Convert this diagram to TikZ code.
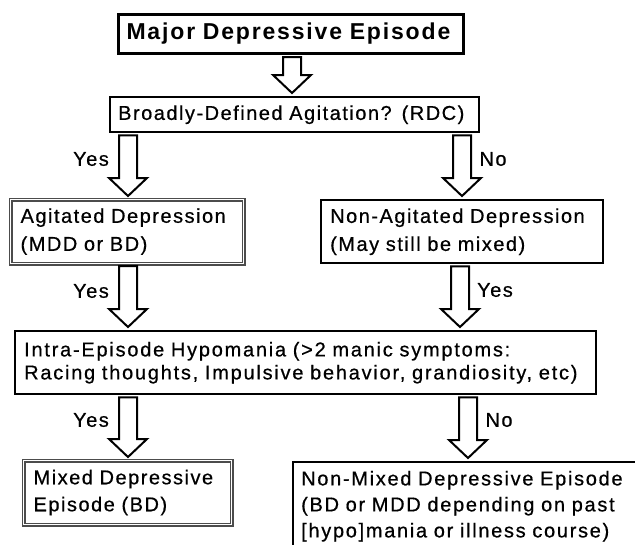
\documentclass[tikz,border=0pt]{standalone}
\usepackage{fontspec}
\setmainfont{Liberation Sans}[LetterSpace=7.5, FakeBold=0.6]
\newfontfamily\titlefont{Liberation Sans}[LetterSpace=8]
\usetikzlibrary{calc}
\tikzset{
  box/.style={draw=black, line width=2.4pt, fill=white, inner ysep=0pt, align=left, anchor=north west},
  dbox/.style={box, draw=black!70, line width=1.2pt, double=white, double distance=1.6pt},
  blockarr/.style={draw=black, line width=2pt, fill=white, line join=miter},
  lbl/.style={inner sep=0pt, font=\fontsize{20}{22}\selectfont},
}
\newcommand{\blockarrow}[3]{%
  \draw[blockarr] let \p1=(#2.south), \p2=(#3.north) in
    ({#1pt-9pt},{\y1-2pt}) -- ({#1pt+9pt},{\y1-2pt}) -- ({#1pt+9pt},{\y2+21pt})
    -- ({#1pt+19pt},{\y2+21pt}) -- ({#1pt},{\y2+3pt}) -- ({#1pt-19pt},{\y2+21pt})
    -- ({#1pt-9pt},{\y2+21pt}) -- cycle;}
\begin{document}
\begin{tikzpicture}[x=1pt,y=-1pt]
\useasboundingbox (0,0) rectangle (635,544);
\clip (0,0) rectangle (635,544);
\fill[white] (0,0) rectangle (635,544);

\node[box, line width=3pt, minimum width=345pt, minimum height=39pt, inner xsep=8pt, text width=329pt,
  font=\titlefont\bfseries\fontsize{23}{26}\selectfont] (mde) at (117,13) {\mbox{Major Depressive Episode}};

\node[box, minimum width=369pt, minimum height=35pt, inner xsep=8pt, text width=353pt,
  font=\fontsize{20}{28}\selectfont] (bda) at (109,96) {\mbox{Broadly-Defined Agitation? (RDC)}};

\node[dbox, minimum width=233pt, minimum height=64pt, inner xsep=10pt, text width=213pt,
  font=\fontsize{20}{28}\selectfont] (agd) at (10,199) {\mbox{Agitated Depression}\\\mbox{(MDD or BD)}};

\node[box, minimum width=282pt, minimum height=63pt, inner xsep=9pt, text width=264pt,
  font=\fontsize{20}{28}\selectfont] (nad) at (320,199) {\mbox{Non-Agitated Depression}\\\mbox{(May still be mixed)}};

\node[box, minimum width=581pt, minimum height=63pt, inner xsep=9pt, text width=563pt,
  font=\fontsize{20}{23}\selectfont\addfontfeature{LetterSpace=8.8}] (ieh) at (14,330) {\mbox{Intra-Episode Hypomania (>2 manic symptoms:}\\\mbox{Racing thoughts, Impulsive behavior, grandiosity, etc)}};

\node[dbox, minimum width=208pt, minimum height=64pt, inner xsep=10pt, text width=188pt,
  font=\fontsize{20}{27}\selectfont] (mix) at (23,460) {\mbox{Mixed Depressive}\\\mbox{Episode (BD)}};

\node[box, minimum width=390pt, minimum height=88pt, inner xsep=8pt, text width=374pt,
  font=\fontsize{20}{26}\selectfont\addfontfeature{LetterSpace=8.5}] (nmx) at (292,461) {\mbox{Non-Mixed Depressive Episode}\\\mbox{(BD or MDD depending on past}\\\mbox{[hypo]mania or illness course)}};

\blockarrow{292}{mde}{bda}
\blockarrow{128}{bda}{agd}
\blockarrow{462}{bda}{nad}
\blockarrow{128}{agd}{ieh}
\blockarrow{460}{nad}{ieh}
\blockarrow{128}{ieh}{mix}
\blockarrow{468}{ieh}{nmx}

\node[lbl] (yes1) at (91,159) {Yes};
\node[lbl] (no1) at (493,159) {No};
\node[lbl] (yes2) at (91,291) {Yes};
\node[lbl] (yes3) at (495,290) {Yes};
\node[lbl] (yes4) at (91,420) {Yes};
\node[lbl] (no2) at (499,420) {No};
\end{tikzpicture}
\end{document}
